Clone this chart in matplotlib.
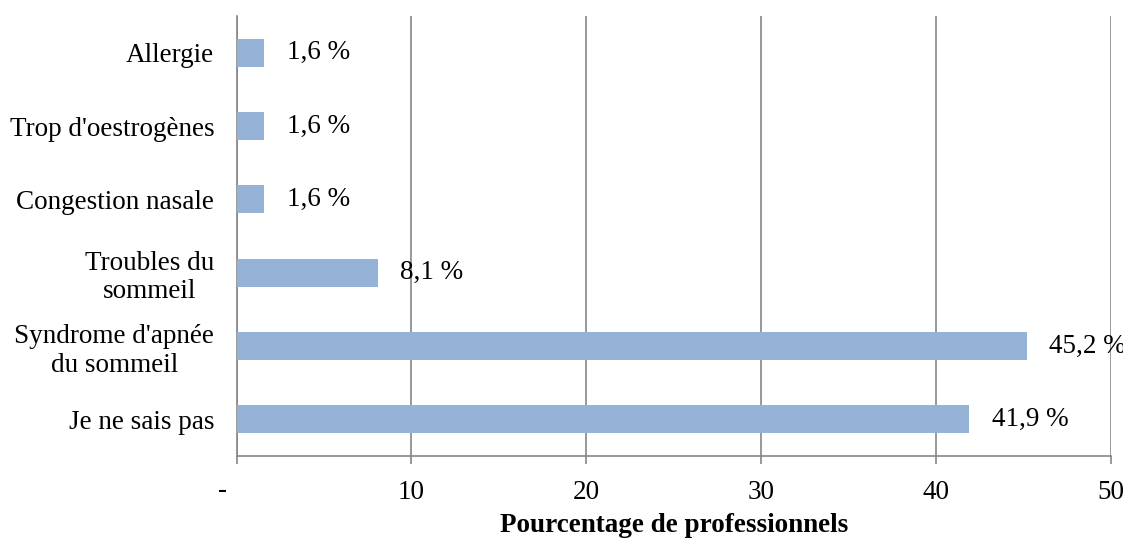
import matplotlib
matplotlib.use("Agg")
import matplotlib.pyplot as plt

categories = ["Je ne sais pas", "Syndrome d'apnée\ndu sommeil", "Troubles du\nsommeil",
              "Congestion nasale", "Trop d'oestrogènes", "Allergie"]
values = [41.9, 45.2, 8.1, 1.6, 1.6, 1.6]
value_labels = ["41,9 %", "45,2 %", "8,1 %", "1,6 %", "1,6 %", "1,6 %"]
xticks = [0, 10, 20, 30, 40, 50]
xtick_labels = ["", "10", "20", "30", "40", "50"]

plt.rcParams['font.family'] = ['Liberation Serif', 'DejaVu Serif']
fs = 19.5
grid_c = '#868686'

fig = plt.figure(figsize=(11.23, 5.41), dpi=100)
ax = fig.add_axes([0.2106, 0.1571, 0.9893 - 0.2106, 0.9704 - 0.1571])

ypos = list(range(len(categories)))
ax.barh(ypos, values, height=0.38, color='#95B3D7', zorder=3)
ax.set_ylim(-0.5, len(categories) - 0.5)
ax.set_xlim(0, 50)

for y, v, lab in zip(ypos, values, value_labels):
    ax.annotate(lab, xy=(v, y), xytext=(16, 0), textcoords='offset points',
                ha='left', va='center', fontsize=fs, zorder=4)

ax.set_yticks(ypos)
ax.set_yticklabels(categories, fontsize=fs, multialignment='center')
ax.tick_params(axis='y', length=0, pad=16)

ax.set_xticks(xticks)
ax.set_xticklabels(xtick_labels, fontsize=fs)
ax.tick_params(axis='x', length=6, width=1.2, color=grid_c, pad=11)
ax.annotate('-', xy=(0, 0), xycoords=('data', 'axes fraction'), xytext=(-10, -16),
            textcoords='offset points', ha='center', va='top', fontsize=fs)

ax.xaxis.grid(True, color=grid_c, linewidth=1.2, zorder=0)
for s in ['top', 'right']:
    ax.spines[s].set_visible(False)
for s in ['left', 'bottom']:
    ax.spines[s].set_color(grid_c)
    ax.spines[s].set_linewidth(1.2)

ax.set_xlabel('Pourcentage de professionnels', fontsize=fs, fontweight='bold', labelpad=6)

plt.savefig('out.png', dpi=100)
